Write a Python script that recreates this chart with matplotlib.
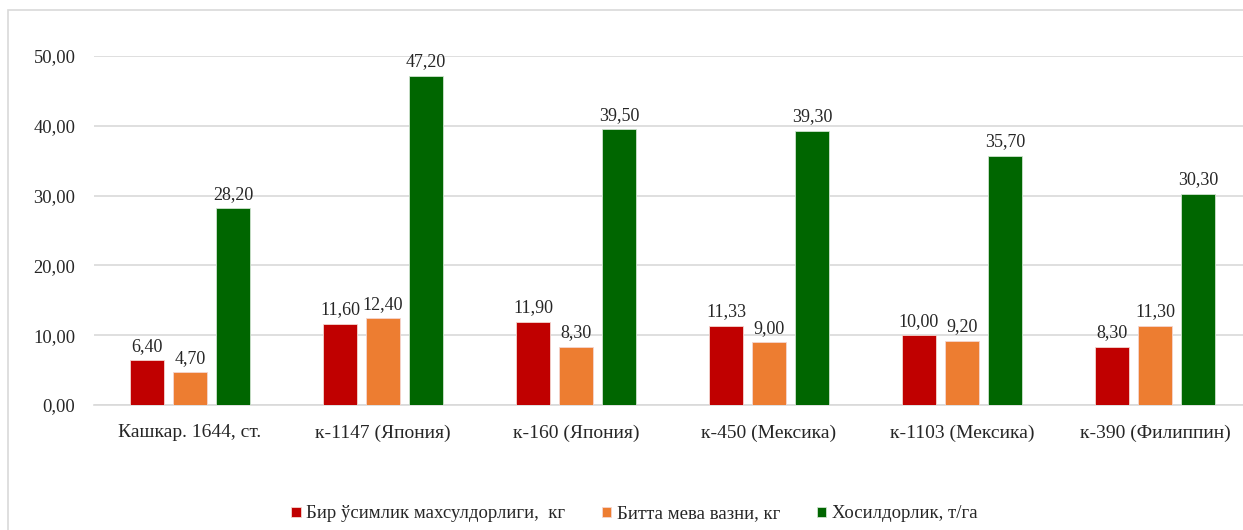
import matplotlib
matplotlib.use("Agg")
import matplotlib.pyplot as plt
from matplotlib.patches import Rectangle
import numpy as np

plt.rcParams['font.family'] = ['Liberation Serif', 'DejaVu Serif']

categories = ["Кашкар. 1644, ст.", "к-1147 (Япония)", "к-160 (Япония)",
              "к-450 (Мексика)", "к-1103 (Мексика)", "к-390 (Филиппин)"]
series_names = ["Бир ўсимлик махсулдорлиги,  кг", "Битта мева вазни, кг", "Хосилдорлик, т/га"]
plant_yield = [6.40, 11.60, 11.90, 11.33, 10.00, 8.30]
fruit_weight = [4.70, 12.40, 8.30, 9.00, 9.20, 11.30]
productivity = [28.20, 47.20, 39.50, 39.30, 35.70, 30.30]
y_ticks = [0, 10, 20, 30, 40, 50]

colors = ["#C00000", "#ED7D31", "#006600"]

W, H = 1243, 530
fig = plt.figure(figsize=(W / 100, H / 100), dpi=100)
fig.patch.set_facecolor("white")

# outer chart frame (runs past the right and bottom edges)
fig.add_artist(Rectangle((8 / W, -0.2), 1.2, 1 - 10 / H + 0.2, transform=fig.transFigure,
                         fill=False, edgecolor="#D9D9D9", linewidth=1.2, clip_on=False))

ax = fig.add_axes([93.5 / W, (H - 405) / H, 1158 / W, (405 - 56) / H])

x = np.arange(len(categories))
bw = 34 / 193
step = 43 / 193
fmt = lambda v: f"{v:.2f}".replace(".", ",")

for i, (vals, c, name) in enumerate(zip([plant_yield, fruit_weight, productivity], colors, series_names)):
    bars = ax.bar(x + (i - 1) * step, vals, width=bw, color=c, edgecolor="#F4D6D0" if i < 2 else "#CFE3CF",
                  linewidth=0.6, label=name, zorder=3)
    for b, v in zip(bars, vals):
        ax.annotate(fmt(v), (b.get_x() + b.get_width() / 2, v), xytext=(0, 4),
                    textcoords="offset points", ha="center", va="bottom",
                    fontsize=13, color="#262626", zorder=4)

ax.set_xlim(-0.5, len(categories) - 0.5)
ax.set_ylim(0, 50)
ax.set_yticks(y_ticks)
ax.set_yticklabels([fmt(v) for v in y_ticks])
ax.set_xticks(x)
ax.set_xticklabels(categories, fontsize=14)
ax.tick_params(axis="both", length=0, labelcolor="#262626")
ax.tick_params(axis="y", pad=13, labelsize=13.3)
ax.tick_params(axis="x", pad=14)
ax.grid(axis="y", color="#D9D9D9", linewidth=1.2, zorder=0)
ax.set_axisbelow(True)
for s in ["top", "right", "left"]:
    ax.spines[s].set_visible(False)
ax.spines["bottom"].set_color("#D9D9D9")
ax.spines["bottom"].set_linewidth(1.2)
ax.patch.set_alpha(0)

leg = fig.legend(loc="center", bbox_to_anchor=(634.5 / W, 16 / H), ncol=3, frameon=False,
                 fontsize=13.5, handlelength=0.5, handleheight=0.5, handletextpad=0.3,
                 columnspacing=1.95, labelcolor="#262626")

fig.savefig("out.png", dpi=100, facecolor="white")
